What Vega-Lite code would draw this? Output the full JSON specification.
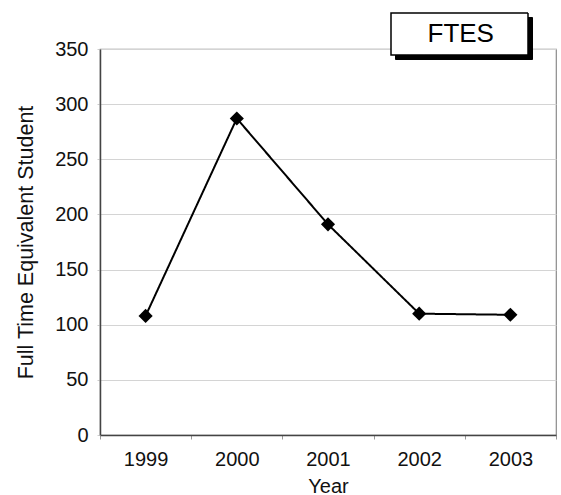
{
  "$schema": "https://vega.github.io/schema/vega-lite/v6.json",
  "autosize": "none",
  "padding": {"left": 100, "top": 49, "right": 5, "bottom": 60},
  "width": 456,
  "height": 386,
  "background": "white",
  "config": {
    "font": "Liberation Sans",
    "view": {"stroke": "#8a8a8a", "strokeWidth": 1.2},
    "axis": {
      "labelFont": "Liberation Sans",
      "titleFont": "Liberation Sans",
      "labelFontSize": 20,
      "titleFontSize": 20,
      "titleFontWeight": "normal",
      "labelColor": "#111",
      "titleColor": "#111",
      "domainColor": "#444",
      "domainWidth": 1.5
    }
  },
  "data": {
    "values": [
      {"year": "1999", "ftes": 108, "series": "FTES", "label": "FTES"},
      {"year": "2000", "ftes": 287, "series": "FTES", "label": "FTES"},
      {"year": "2001", "ftes": 191, "series": "FTES", "label": "FTES"},
      {"year": "2002", "ftes": 110, "series": "FTES", "label": "FTES"},
      {"year": "2003", "ftes": 109, "series": "FTES", "label": "FTES"}
    ]
  },
  "encoding": {
    "x": {
      "field": "year",
      "type": "ordinal",
      "title": "Year",
      "scale": {"type": "band", "paddingInner": 0, "paddingOuter": 0},
      "axis": {
        "labelAngle": 0,
        "tickBand": "extent",
        "tickSize": 4,
        "tickColor": "#999",
        "labelPadding": 10,
        "titlePadding": 7,
        "grid": false
      }
    },
    "y": {
      "field": "ftes",
      "type": "quantitative",
      "title": "Full Time Equivalent Student",
      "scale": {"domain": [0, 350], "nice": false},
      "axis": {
        "values": [0, 50, 100, 150, 200, 250, 300, 350],
        "tickSize": 3,
        "tickColor": "#ccc",
        "labelPadding": 9,
        "titlePadding": 17,
        "titleFontSize": 21.5,
        "grid": true,
        "gridColor": "#d4d4d4",
        "gridWidth": 1.2
      }
    }
  },
  "layer": [
    {
      "mark": {"type": "line", "strokeWidth": 2},
      "encoding": {
        "color": {
          "field": "series",
          "type": "nominal",
          "scale": {"range": ["black"]},
          "legend": {
            "title": null,
            "orient": "none",
            "legendX": 295,
            "legendY": -79.5,
            "padding": 0,
            "symbolType": "M-1,-0.3066H1V0.3066H-1Z",
            "symbolSize": 18769,
            "labelFontSize": 26,
            "labelOffset": -101.5,
            "labelExpr": "''",
            "encode": {
              "symbols": {
                "update": {
                  "shape": {"value": "M-1,-0.3066H1V0.3066H-1Z"},
                  "size": {"value": 18769},
                  "fill": {"value": "black"},
                  "stroke": {"value": "black"},
                  "strokeWidth": {"value": 1},
                  "opacity": {"value": 1},
                  "fillOpacity": {"value": 1}
                }
              }
            }
          }
        },
        "strokeDash": {
          "field": "label",
          "type": "nominal",
          "scale": {"range": [[1, 0]]},
          "legend": {
            "title": null,
            "orient": "none",
            "legendX": 290,
            "legendY": -84.5,
            "padding": 0,
            "symbolType": "M-1,-0.3066H1V0.3066H-1Z",
            "symbolSize": 18769,
            "labelFontSize": 26,
            "labelColor": "black",
            "labelOffset": -101.5,
            "encode": {
              "symbols": {
                "update": {
                  "shape": {"value": "M-1,-0.3066H1V0.3066H-1Z"},
                  "size": {"value": 18769},
                  "fill": {"value": "white"},
                  "stroke": {"value": "black"},
                  "strokeWidth": {"value": 1.5},
                  "opacity": {"value": 1},
                  "fillOpacity": {"value": 1}
                }
              }
            }
          }
        }
      }
    },
    {
      "mark": {"type": "point", "filled": true, "shape": "diamond", "color": "black", "opacity": 1, "size": 200}
    }
  ]
}
